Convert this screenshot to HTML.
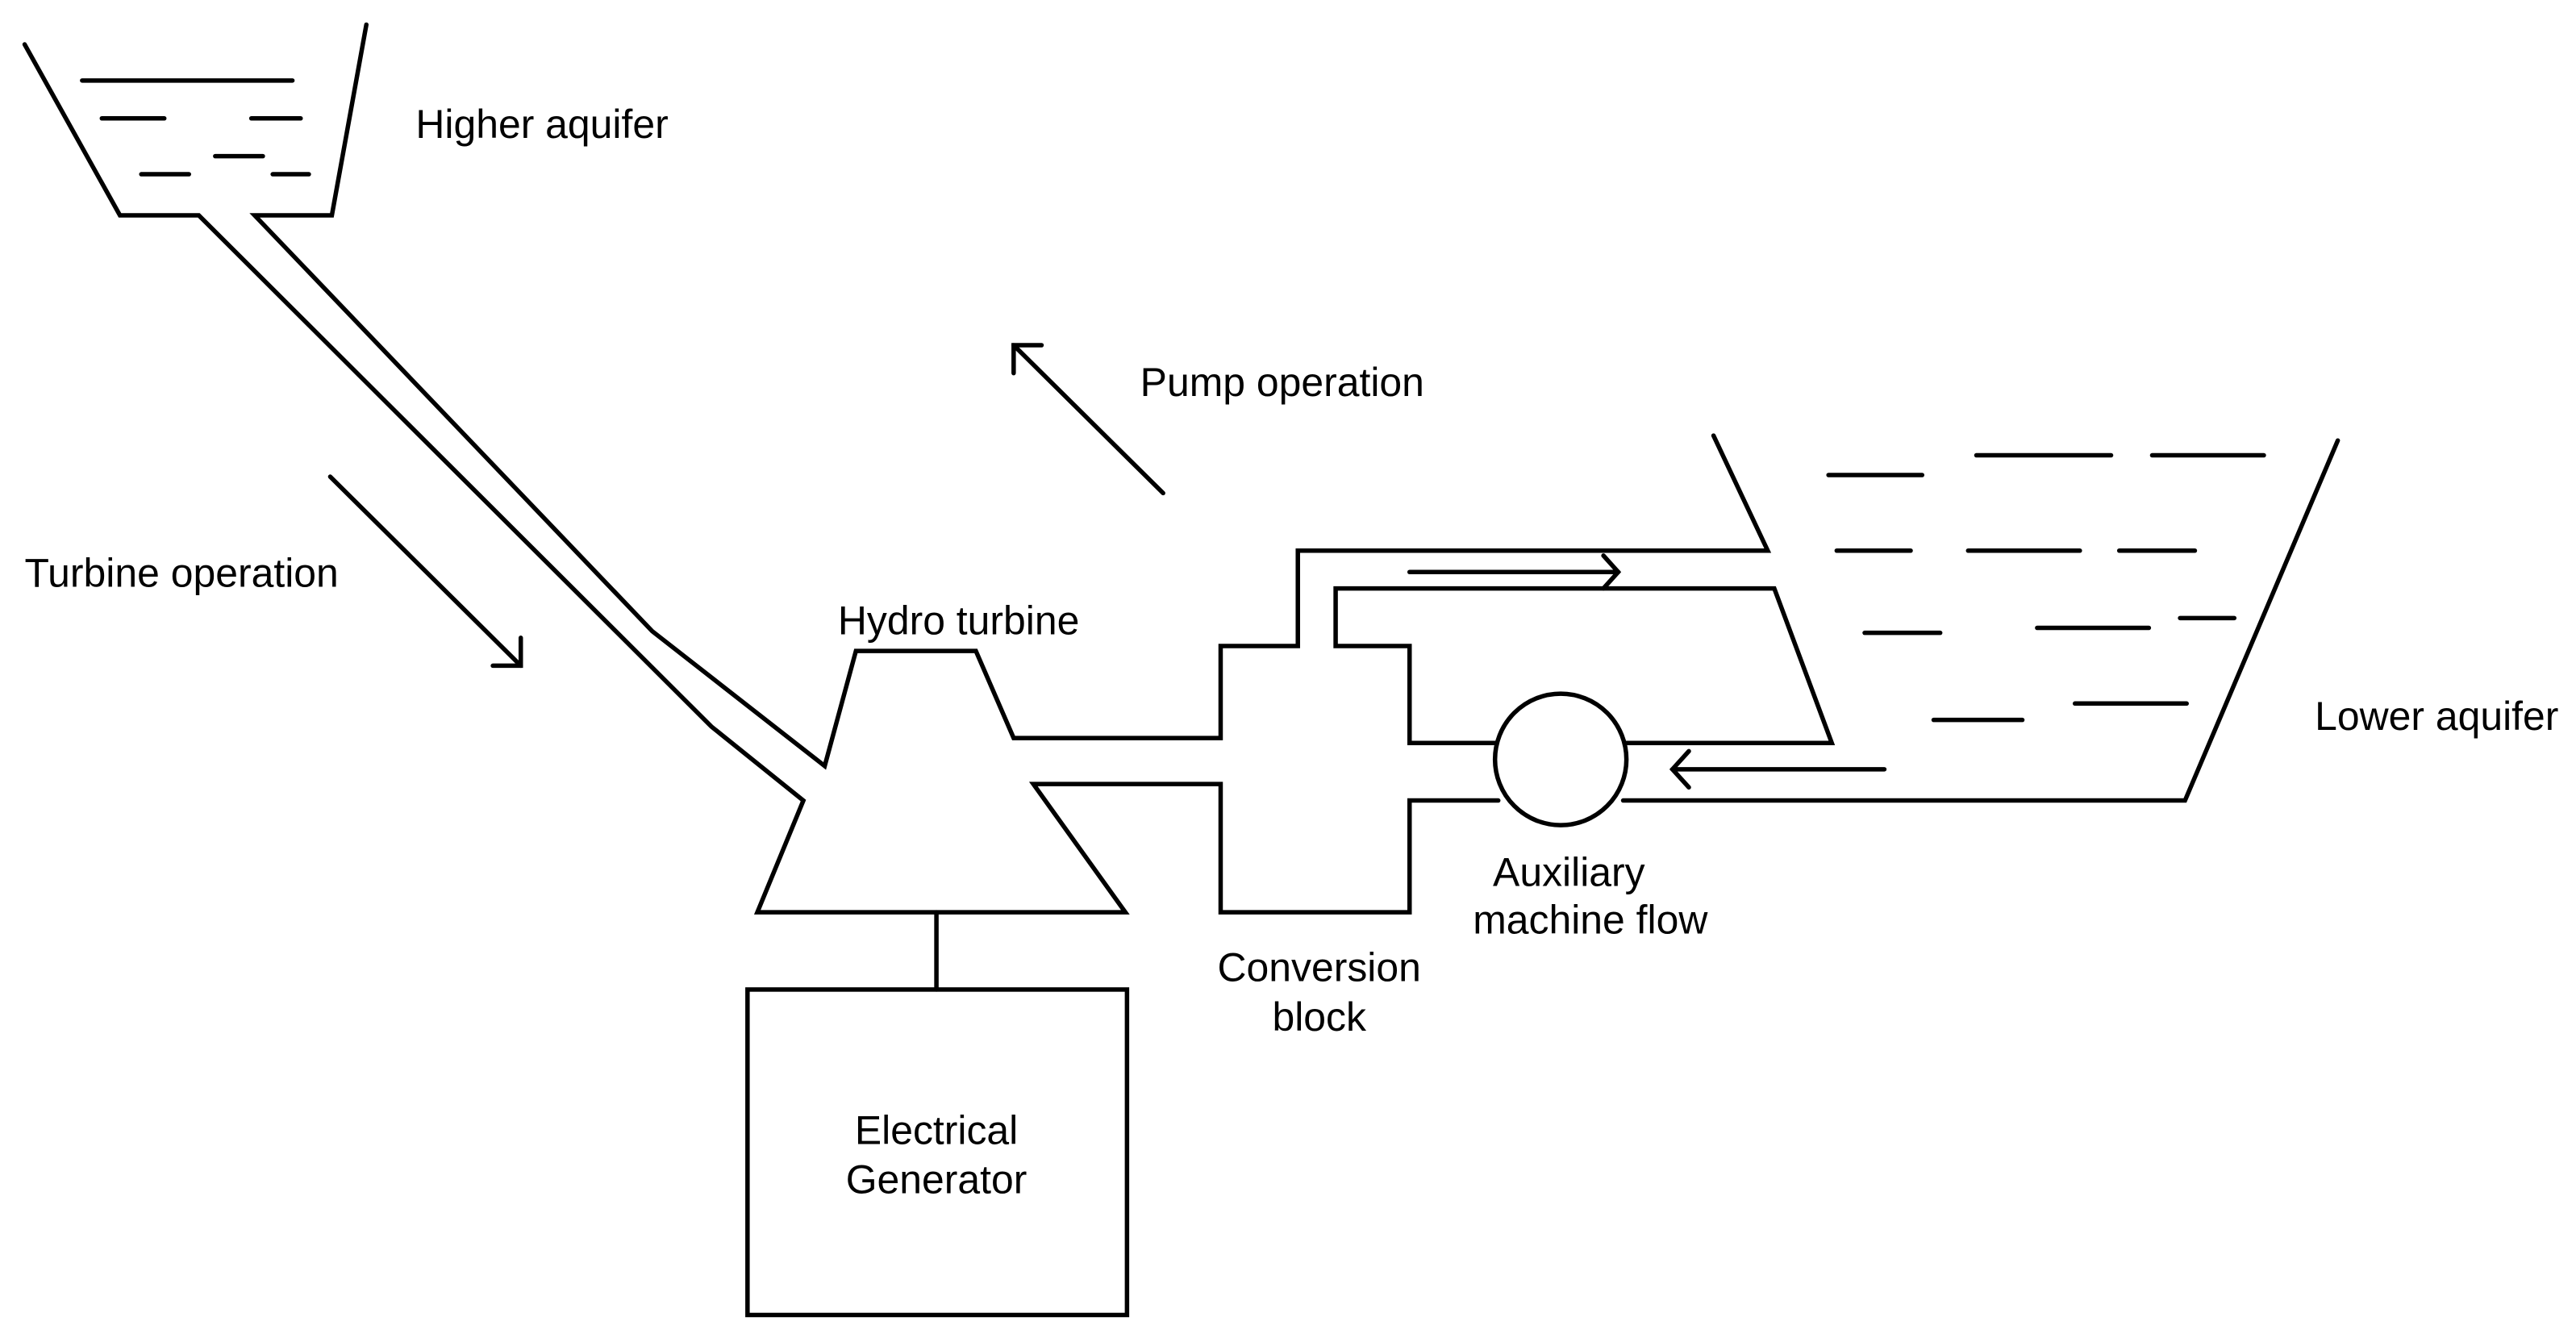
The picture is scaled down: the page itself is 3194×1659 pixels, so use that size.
<!DOCTYPE html>
<html><head><style>html,body{margin:0;padding:0;background:#fff}svg{display:block}</style></head>
<body>
<svg width="3194" height="1659" viewBox="0 0 1568 814" preserveAspectRatio="none" xmlns="http://www.w3.org/2000/svg">
<g fill="none" stroke="#000" stroke-width="2.7" stroke-linejoin="miter" stroke-linecap="round">
<polyline points="15,27 73,131 121,131 433,442 489,487 461,555 685,555 629,477 743,477 743,555 858,555 858,487 912,487"/>
<polyline points="223,15 202,131 155,131 397,384 502,466 521,396 594,396 617,449 743,449 743,393 790,393 790,335 1076,335 1043,265"/>
<polyline points="910,452 858,452 858,393 813,393 813,358 1080,358 1115,452 990,452"/>
<polyline points="988,487 1330,487 1423,268"/>
<circle cx="950" cy="462" r="40"/>
<line x1="570" y1="555" x2="570" y2="602"/>
<rect x="455" y="602" width="231" height="198"/>
<line x1="50" y1="49" x2="178" y2="49"/><line x1="62" y1="72" x2="100" y2="72"/><line x1="153" y1="72" x2="183" y2="72"/><line x1="131" y1="95" x2="160" y2="95"/><line x1="86" y1="106" x2="115" y2="106"/><line x1="166" y1="106" x2="188" y2="106"/>
<line x1="1113" y1="289" x2="1170" y2="289"/><line x1="1203" y1="277" x2="1285" y2="277"/><line x1="1310" y1="277" x2="1378" y2="277"/><line x1="1118" y1="335" x2="1163" y2="335"/><line x1="1198" y1="335" x2="1266" y2="335"/><line x1="1290" y1="335" x2="1336" y2="335"/><line x1="1135" y1="385" x2="1181" y2="385"/><line x1="1240" y1="382" x2="1308" y2="382"/><line x1="1327" y1="376" x2="1360" y2="376"/><line x1="1177" y1="438" x2="1231" y2="438"/><line x1="1263" y1="428" x2="1331" y2="428"/>
<line x1="858" y1="348" x2="985" y2="348"/><polyline points="976,338 985,348 976,358"/>
<line x1="1147" y1="468" x2="1018" y2="468"/><polyline points="1028,457 1018,468 1028,479"/>
<line x1="201" y1="290" x2="317" y2="405"/><polyline points="317,388 317,405 300,405"/>
<line x1="708" y1="300" x2="617" y2="210"/><polyline points="617,227 617,210 634,210"/>
</g>
<g font-family="Liberation Sans, sans-serif" font-size="24.5" fill="#000">
<text x="253" y="84">Higher aquifer</text>
<text x="694" y="241">Pump operation</text>
<text x="15" y="357">Turbine operation</text>
<text x="510" y="386">Hydro turbine</text>
<text x="1409" y="444">Lower aquifer</text>
<g text-anchor="middle">
<text x="955" y="539">Auxiliary</text><text x="968" y="568">machine flow</text>
<text x="803" y="597">Conversion</text><text x="803" y="627">block</text>
<text x="570" y="696">Electrical</text><text x="570" y="726">Generator</text>
</g></g>
</svg>
</body></html>
